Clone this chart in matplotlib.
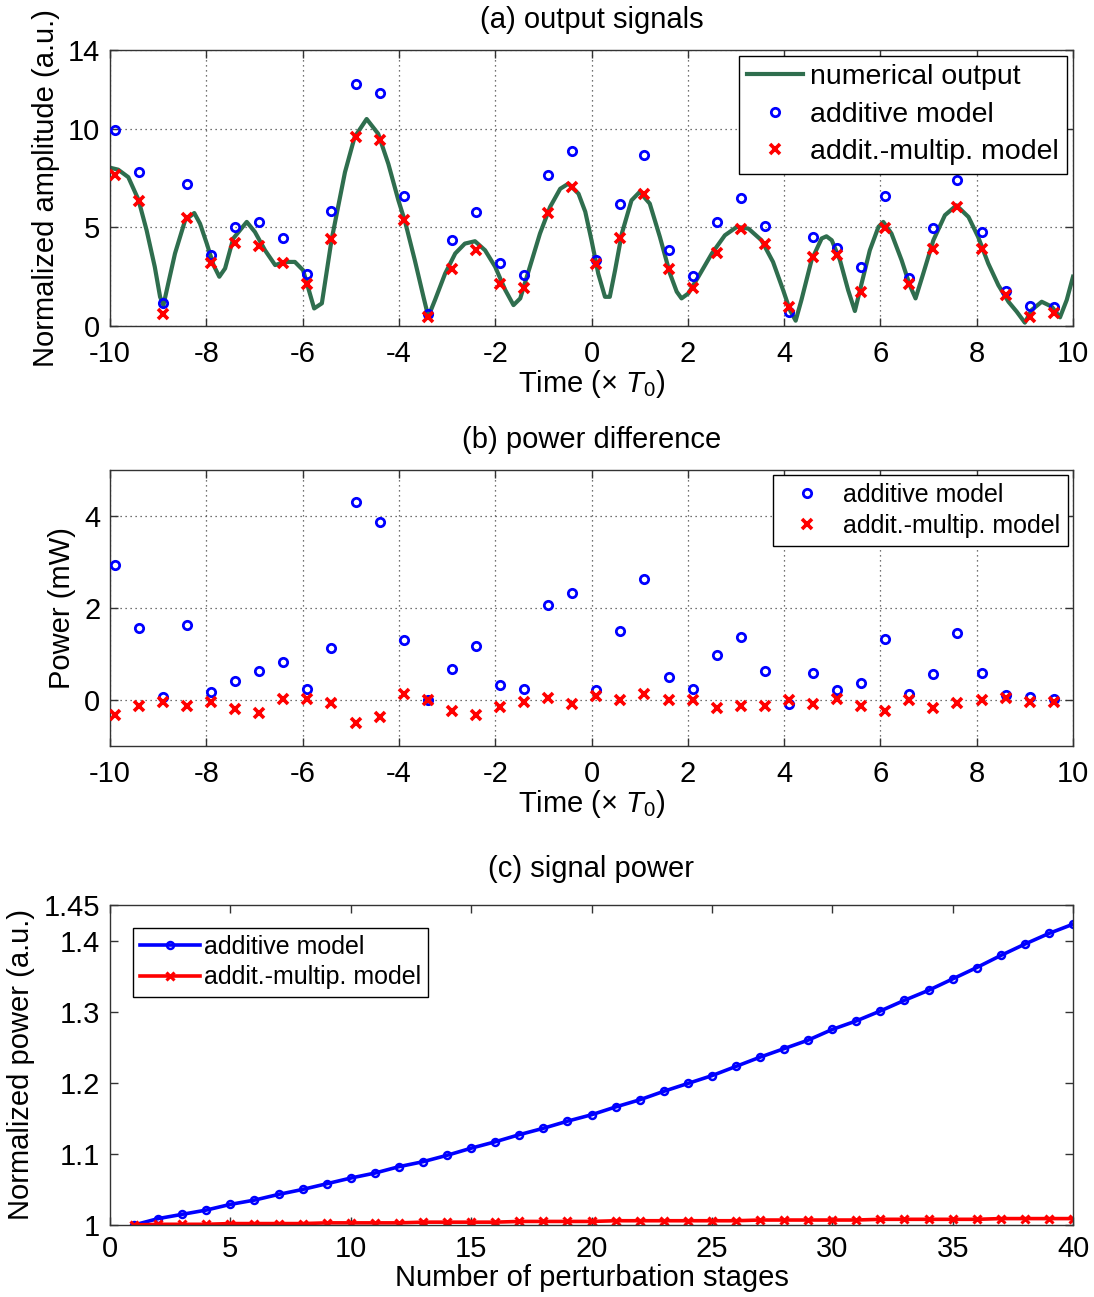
import matplotlib
matplotlib.use("Agg")
import matplotlib.pyplot as plt

plt.rcParams['font.family'] = ['Liberation Sans', 'DejaVu Sans']
plt.rcParams['mathtext.fontset'] = 'custom'
plt.rcParams['mathtext.rm'] = 'Liberation Sans'
plt.rcParams['mathtext.it'] = 'Liberation Sans:italic'
plt.rcParams['axes.unicode_minus'] = False

# ---------------- data ----------------
t_samples = [-9.9, -9.4, -8.9, -8.4, -7.9, -7.4, -6.9, -6.4, -5.9, -5.4,
             -4.9, -4.4, -3.9, -3.4, -2.9, -2.4, -1.9, -1.4, -0.9, -0.4,
             0.1, 0.6, 1.1, 1.6, 2.1, 2.6, 3.1, 3.6, 4.1, 4.6,
             5.1, 5.6, 6.1, 6.6, 7.1, 7.6, 8.1, 8.6, 9.1, 9.6]

amp_additive = [9.92, 7.81, 1.15, 7.22, 3.59, 5.03, 5.26, 4.47, 2.66, 5.82,
                12.28, 11.84, 6.58, 0.61, 4.35, 5.78, 3.22, 2.58, 7.64, 8.90,
                3.37, 6.17, 8.65, 3.84, 2.53, 5.26, 6.51, 5.09, 0.73, 4.52,
                3.98, 3.00, 6.58, 2.46, 4.97, 7.39, 4.77, 1.79, 1.03, 0.98]

amp_addmult = [7.64, 6.36, 0.61, 5.50, 3.20, 4.22, 4.06, 3.20, 2.12, 4.40,
               9.58, 9.41, 5.36, 0.44, 2.87, 3.84, 2.11, 1.91, 5.73, 7.05,
               3.14, 4.47, 6.68, 2.90, 1.91, 3.68, 4.94, 4.15, 0.98, 3.51,
               3.59, 1.70, 4.97, 2.11, 3.93, 6.04, 3.93, 1.57, 0.44, 0.67]

t_numerical = [-10.0, -9.83, -9.62, -9.41, -9.24, -9.07, -8.96, -8.89, -8.79, -8.65,
               -8.44, -8.25, -8.13, -7.99, -7.85, -7.73, -7.61, -7.44, -7.16, -6.99,
               -6.78, -6.57, -6.37, -6.16, -5.99, -5.85, -5.76, -5.6, -5.4, -5.12,
               -4.92, -4.67, -4.43, -4.22, -4.01, -3.87, -3.67, -3.49, -3.39, -3.25,
               -3.04, -2.83, -2.63, -2.42, -2.21, -2.0, -1.79, -1.62, -1.48, -1.28,
               -1.07, -0.86, -0.65, -0.48, -0.27, -0.13, 0.0, 0.14, 0.28, 0.38,
               0.49, 0.63, 0.83, 1.0, 1.21, 1.42, 1.63, 1.77, 1.87, 2.01,
               2.22, 2.50, 2.77, 3.02, 3.26, 3.53, 3.77, 3.98, 4.12, 4.24,
               4.36, 4.57, 4.78, 4.88, 4.99, 5.16, 5.33, 5.47, 5.61, 5.78,
               5.96, 6.06, 6.23, 6.44, 6.61, 6.73, 6.89, 7.10, 7.34, 7.58,
               7.83, 8.03, 8.24, 8.45, 8.66, 8.83, 9.0, 9.14, 9.35, 9.56,
               9.73, 9.87, 10.0]
amp_numerical = [8.03, 7.93, 7.55, 6.41, 4.86, 3.0, 1.48, 1.06, 2.16, 3.68,
                 5.36, 5.73, 5.19, 4.18, 3.09, 2.50, 2.92, 4.44, 5.28, 4.77,
                 3.84, 3.09, 3.25, 3.25, 2.83, 1.65, 0.89, 1.15, 4.35, 7.8,
                 9.58, 10.5, 9.75, 8.23, 6.37, 5.28, 3.34, 1.48, 0.47, 1.32,
                 2.66, 3.68, 4.18, 4.30, 3.84, 3.0, 1.82, 1.06, 1.40, 3.0,
                 4.69, 6.04, 6.96, 7.22, 6.71, 5.8, 4.35, 2.66, 1.48, 1.48,
                 2.83, 4.69, 6.37, 6.80, 6.21, 4.52, 2.66, 1.74, 1.40, 1.65,
                 2.50, 3.68, 4.60, 5.03, 4.94, 4.35, 3.25, 1.82, 0.81, 0.27,
                 1.32, 3.34, 4.44, 4.55, 4.35, 3.34, 1.82, 0.76, 2.16, 3.84,
                 5.03, 5.28, 4.69, 3.34, 2.07, 1.40, 2.66, 4.35, 5.62, 6.12,
                 5.53, 4.52, 3.17, 2.07, 1.23, 0.73, 0.17, 0.81, 1.23, 0.98,
                 0.44, 1.32, 2.50]

pow_additive = [2.93, 1.56, 0.07, 1.63, 0.18, 0.41, 0.62, 0.83, 0.25, 1.14,
                4.31, 3.88, 1.30, 0.01, 0.67, 1.17, 0.32, 0.23, 2.07, 2.33,
                0.21, 1.50, 2.64, 0.51, 0.23, 0.98, 1.37, 0.62, -0.09, 0.59,
                0.21, 0.36, 1.32, 0.14, 0.56, 1.46, 0.59, 0.11, 0.07, 0.03]
pow_addmult = [-0.33, -0.13, -0.04, -0.14, -0.04, -0.20, -0.28, 0.03, 0.03, -0.06,
               -0.49, -0.36, 0.14, 0.0, -0.24, -0.33, -0.15, -0.04, 0.04, -0.08,
               0.09, 0.0, 0.12, 0.0, 0.0, -0.17, -0.13, -0.12, 0.0, -0.09,
               0.03, -0.13, -0.24, 0.01, -0.17, -0.06, 0.0, 0.05, -0.04, -0.04]

stages = list(range(1, 41))
power_additive = [1.000, 1.009, 1.015, 1.021, 1.029, 1.035, 1.043, 1.050, 1.058, 1.066,
                  1.073, 1.082, 1.089, 1.098, 1.108, 1.117, 1.127, 1.136, 1.146, 1.155,
                  1.166, 1.176, 1.188, 1.199, 1.210, 1.223, 1.236, 1.248, 1.260, 1.275,
                  1.287, 1.301, 1.316, 1.330, 1.346, 1.362, 1.379, 1.395, 1.410, 1.423]
power_addmult = [1.000, 1.001, 1.001, 1.001, 1.002, 1.002, 1.002, 1.002, 1.003, 1.003,
                 1.003, 1.003, 1.004, 1.004, 1.004, 1.004, 1.005, 1.005, 1.005, 1.005,
                 1.006, 1.006, 1.006, 1.006, 1.006, 1.006, 1.007, 1.007, 1.007, 1.007,
                 1.007, 1.008, 1.008, 1.008, 1.008, 1.008, 1.009, 1.009, 1.009, 1.009]

xticks_time = [-10, -8, -6, -4, -2, 0, 2, 4, 6, 8, 10]
yticks_a = [0, 5, 10, 14]
yticks_b = [0, 2, 4]
xticks_c = [0, 5, 10, 15, 20, 25, 30, 35, 40]
yticks_c = [1, 1.1, 1.2, 1.3, 1.4, 1.45]
yticklabels_c = ['1', '1.1', '1.2', '1.3', '1.4', '1.45']

# ---------------- style ----------------
FS = 21
GREEN = '#2F6E4E'
W, H = 1094, 1297
fig = plt.figure(figsize=(W / 100, H / 100), dpi=100)

def ax_at(left, top, right, bottom):
    return fig.add_axes([left / W, 1 - bottom / H, (right - left) / W, (bottom - top) / H])

def style(ax, grid=True):
    for s in ax.spines.values():
        s.set_linewidth(1.0)
        s.set_color('#333333')
    ax.tick_params(direction='in', length=6, width=1.0, labelsize=FS,
                   top=True, right=True, pad=7, colors='#333333', labelcolor='black')
    ax.tick_params(axis='x', pad=10)
    if grid:
        ax.grid(True, linestyle=(0, (1, 3)), color='#444444', linewidth=0.9)
        ax.set_axisbelow(True)

xlabel_time = r'Time ($\times$ $T_{\mathit{0}}$)'

# ---------------- (a) ----------------
axa = ax_at(110, 50, 1073, 326)
style(axa)
axa.plot(t_numerical, amp_numerical, color=GREEN, lw=3.0, label='numerical output', zorder=2)
axa.plot(t_samples, amp_additive, linestyle='none', marker='o', ms=6, mfc='none',
         mec='blue', mew=2, label='additive model', zorder=3)
axa.plot(t_samples, amp_addmult, linestyle='none', marker='x', ms=7.5,
         mec='red', mew=2.6, label='addit.-multip. model', zorder=4)
axa.set_xlim(-10, 10)
axa.set_ylim(0, 14)
axa.set_xticks(xticks_time)
axa.set_yticks(yticks_a)
axa.set_xlabel(xlabel_time, fontsize=FS, labelpad=0)
axa.set_ylabel('Normalized amplitude (a.u.)', fontsize=FS, labelpad=6)
axa.set_title('(a) output signals', fontsize=FS, pad=16)
leg = axa.legend(loc='upper right', fontsize=20.5, frameon=True, fancybox=False,
                 edgecolor='black', framealpha=1, handlelength=1.95, handletextpad=0.25,
                 borderpad=0.3, labelspacing=0.4, borderaxespad=0.2)
leg.get_frame().set_linewidth(1.0)

# ---------------- (b) ----------------
axb = ax_at(110, 470, 1073, 746)
style(axb)
axb.plot(t_samples, pow_additive, linestyle='none', marker='o', ms=6, mfc='none',
         mec='blue', mew=2, label='additive model', zorder=3)
axb.plot(t_samples, pow_addmult, linestyle='none', marker='x', ms=7.5,
         mec='red', mew=2.6, label='addit.-multip. model', zorder=4)
axb.set_xlim(-10, 10)
axb.set_ylim(-1, 5)
axb.set_xticks(xticks_time)
axb.set_yticks(yticks_b)
axb.set_xlabel(xlabel_time, fontsize=FS, labelpad=0)
axb.set_ylabel('Power (mW)', fontsize=FS, labelpad=6)
axb.set_title('(b) power difference', fontsize=FS, pad=16)
leg = axb.legend(loc='upper right', fontsize=18, frameon=True, fancybox=False,
                 edgecolor='black', framealpha=1, handlelength=2.1, handletextpad=0.4,
                 borderpad=0.3, labelspacing=0.3, borderaxespad=0.2)
leg.get_frame().set_linewidth(1.0)

# ---------------- (c) ----------------
axc = ax_at(110, 905, 1073, 1225)
style(axc, grid=False)
axc.plot(stages, power_additive, color='blue', lw=2.6, marker='o', ms=5, mfc='none',
         mec='blue', mew=1.8, label='additive model')
axc.plot(stages, power_addmult, color='red', lw=2.6, marker='x', ms=6,
         mec='red', mew=2.2, label='addit.-multip. model')
axc.set_xlim(0, 40)
axc.set_ylim(1, 1.45)
axc.set_xticks(xticks_c)
axc.set_yticks(yticks_c)
axc.set_yticklabels(yticklabels_c)
axc.tick_params(axis='x', pad=7)
axc.set_xlabel('Number of perturbation stages', fontsize=FS, labelpad=1)
axc.set_ylabel('Normalized power (a.u.)', fontsize=FS, labelpad=6)
axc.set_title('(c) signal power', fontsize=FS, pad=20)
leg = axc.legend(loc='upper left', fontsize=18, frameon=True, fancybox=False,
                 edgecolor='black', framealpha=1, handlelength=2.4, handletextpad=0.15,
                 borderpad=0.3, labelspacing=0.25, borderaxespad=0.9)
leg.get_frame().set_linewidth(1.0)

fig.savefig('out.png', dpi=100)
